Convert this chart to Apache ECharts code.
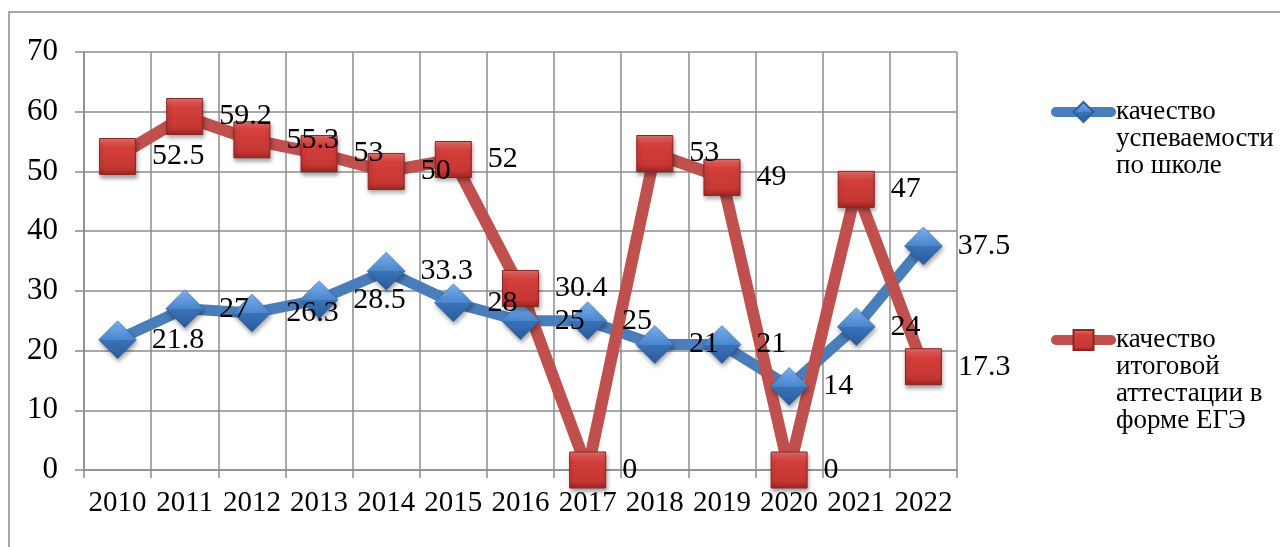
<!DOCTYPE html>
<html>
<head>
<meta charset="utf-8">
<script src="https://cdn.jsdelivr.net/npm/echarts@6/dist/echarts.min.js"></script>
<style>
  html, body { margin: 0; padding: 0; background: #ffffff; }
  #chart { width: 1280px; height: 547px; }
</style>
</head>
<body>
<div id="chart"></div>
<script>
// ---- data ----
const years = ['2010','2011','2012','2013','2014','2015','2016','2017','2018','2019','2020','2021','2022'];
const schoolQuality = [21.8, 27, 26.3, 28.5, 33.3, 28, 25, 25, 21, 21, 14, 24, 37.5];
const examQuality = [52.5, 59.2, 55.3, 53, 50, 52, 30.4, 0, 53, 49, 0, 47, 17.3];
const seriesNames = ['качество\nуспеваемости\nпо школе', 'качество\nитоговой\nаттестации в\nформе ЕГЭ'];
const yTicks = { min: 0, max: 70, interval: 10 };

// ---- style ----
const FONT = "'Liberation Serif', 'Times New Roman', serif";
const GRID_COLOR = '#8c8c8c';
const BLUE = '#4a7ebb';
const RED = '#c0504d';
const LINE_H = 27;

const blueMarker = new echarts.graphic.LinearGradient(0, 0, 0, 1, [
  { offset: 0, color: '#7fb4f0' },
  { offset: 0.5, color: '#4a86cf' },
  { offset: 0.51, color: '#3a73b8' },
  { offset: 1, color: '#2a5a9a' }
]);
const redMarker = new echarts.graphic.LinearGradient(0, 0, 0, 1, [
  { offset: 0, color: '#e8736e' },
  { offset: 0.25, color: '#d43f3a' },
  { offset: 0.8, color: '#c63733' },
  { offset: 1, color: '#9c2522' }
]);

const chart = echarts.init(document.getElementById('chart'), null, { renderer: 'canvas' });

// icon is centred on the text block, so pad the block with blank lines
// above so that the icon lines up with the first text line
function legendFor(idx, iconCenterY) {
  const nLines = seriesNames[idx].split('\n').length;
  const totalLines = 2 * nLines - 1;
  return {
    orient: 'vertical',
    left: 1051,
    top: iconCenterY - totalLines * LINE_H / 2,
    padding: 0,
    itemWidth: 55,
    itemHeight: 25,
    itemGap: 0,
    lineStyle: { width: 10, cap: 'round' },
    data: [seriesNames[idx]],
    formatter: function (name) { return '\n'.repeat(nLines - 1) + name; },
    textStyle: { fontFamily: FONT, fontSize: 27, color: '#000', lineHeight: LINE_H },
    selectedMode: false
  };
}

const option = {
  backgroundColor: '#ffffff',
  animation: false,
  graphic: [{
    type: 'rect',
    shape: { x: 9, y: 12, width: 1400, height: 700 },
    style: { fill: 'none', stroke: '#8a8a8a', lineWidth: 1.5 },
    silent: true,
    z: -10
  }],
  legend: [legendFor(0, 112), legendFor(1, 340)],
  grid: { left: 84, right: 323, top: 52, bottom: 77, containLabel: false },
  xAxis: {
    type: 'category',
    data: years,
    boundaryGap: true,
    axisLine: { show: true, lineStyle: { color: GRID_COLOR, width: 1.5 } },
    axisTick: { show: true, length: 8, alignWithLabel: false, lineStyle: { color: GRID_COLOR, width: 1.5 } },
    splitLine: { show: true, lineStyle: { color: GRID_COLOR, width: 1.5 } },
    axisLabel: { fontFamily: FONT, fontSize: 29, color: '#000', margin: 19, interval: 0 }
  },
  yAxis: {
    type: 'value',
    min: yTicks.min,
    max: yTicks.max,
    interval: yTicks.interval,
    axisLine: { show: true, lineStyle: { color: GRID_COLOR, width: 1.5 } },
    axisTick: { show: true, length: 9, lineStyle: { color: GRID_COLOR, width: 1.5 } },
    splitLine: { show: true, lineStyle: { color: GRID_COLOR, width: 1.5 } },
    axisLabel: { fontFamily: FONT, fontSize: 31, color: '#000', margin: 26 }
  },
  series: [
    {
      name: seriesNames[0],
      type: 'line',
      data: schoolQuality,
      symbol: 'diamond',
      symbolSize: 38,
      lineStyle: { color: BLUE, width: 11, cap: 'round', join: 'round' },
      itemStyle: {
        color: blueMarker,
        borderColor: '#2f5f9c',
        borderWidth: 0.5,
        shadowColor: 'rgba(0,0,0,0.35)',
        shadowBlur: 4,
        shadowOffsetX: 1,
        shadowOffsetY: 3
      },
      label: { show: true, position: 'right', distance: 15, fontFamily: FONT, fontSize: 30, color: '#000' },
      emphasis: { disabled: true }
    },
    {
      name: seriesNames[1],
      type: 'line',
      data: examQuality,
      symbol: 'rect',
      symbolSize: 36,
      lineStyle: { color: RED, width: 12, cap: 'round', join: 'round' },
      itemStyle: {
        color: redMarker,
        borderColor: '#8a2624',
        borderWidth: 1,
        shadowColor: 'rgba(0,0,0,0.35)',
        shadowBlur: 4,
        shadowOffsetX: 1,
        shadowOffsetY: 3
      },
      label: { show: true, position: 'right', distance: 16, fontFamily: FONT, fontSize: 30, color: '#000' },
      emphasis: { disabled: true }
    }
  ]
};

chart.setOption(option);
</script>
</body>
</html>
